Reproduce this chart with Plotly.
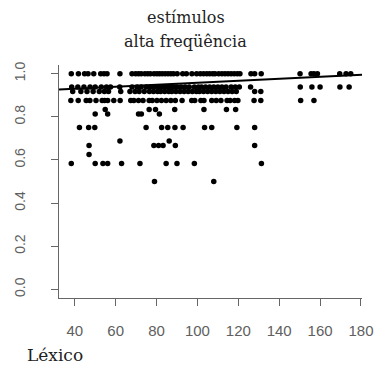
import plotly.graph_objects as go

# --- data ---
x_100 = [38.3, 41.8, 44.8, 46.5, 49.3, 52.7, 54.3, 55.8, 62.1, 68, 69.8, 71.2, 72.5, 74.3, 75.7, 77,
         78.8, 80.2, 81.5, 82.8, 84.2, 85.6, 87, 88.3, 90.1, 92.8, 94.6, 97.3, 99.6, 101.4, 103,
         104.6, 106, 107.5, 108.6, 110.4, 112, 113.5, 115, 116.5, 118, 119.5, 120.8, 126.2, 128,
         131.2, 150.2, 155.6, 157, 158.7, 169.6, 172.7, 175]
x_094 = [38.5, 41.5, 44.5, 47.5, 50, 53, 55.5, 57.5, 62, 68, 70.5, 72.5, 75, 77, 79, 81, 83, 85, 87,
         88.5, 90, 92, 94, 96, 98.5, 100.5, 102, 104, 106, 108, 110, 112, 114, 116.5, 118.5, 120.5,
         126, 150.3, 156, 160, 169.7, 174.2]
x_092 = [39, 43, 46, 49, 52, 54.5, 56.5, 62.5, 67, 69.5, 71.5, 74, 76.5, 78.5, 80.5, 82, 84, 86,
         87.5, 89.5, 91.5, 93.5, 95.5, 97.5, 99.5, 101, 103, 105, 107, 109, 111, 113, 115, 117,
         119, 128, 131]
x_088 = [38.1, 41.7, 45.6, 47.4, 50.4, 53.4, 54.6, 56.1, 59.1, 62.2, 67.4, 68.9, 71.2, 73.4, 76.4,
         77.9, 80.2, 82.4, 84.7, 87, 89.2, 92.5, 97.2, 98.7, 101.7, 103.2, 107, 109.2, 111.5,
         114.5, 116, 118.2, 119.8, 127.7, 131, 150.5, 157]
x_083 = [54.9, 76.4, 79.5, 88.9, 103.2, 114.2, 118.7]
x_081 = [50, 56.1, 71.2, 72.6, 81.4]
x_075 = [42.3, 46.8, 49.8, 74.9, 82.5, 85.5, 89, 93, 103.5, 107, 119.3, 128]
x_069 = [62.1, 86.2]
x_067 = [47, 78.7, 81, 83.2, 89.2, 128]
x_062 = [47]
x_058 = [38.3, 50, 53.8, 56.1, 62.9, 71.9, 84.7, 90, 98.5, 131.3]
x_050 = [79, 108]

rows = [
    (1.0, x_100), (0.9375, x_094), (0.9167, x_092), (0.875, x_088), (0.8333, x_083),
    (0.8125, x_081), (0.75, x_075), (0.6875, x_069), (0.6667, x_067), (0.625, x_062),
    (0.5833, x_058), (0.5, x_050),
]

# regression line coefficients
intercept = 0.911
slope = 0.000466

x_range = [32.3, 180.5]
y_range = [-0.04, 1.04]
x_ticks = [40, 60, 80, 100, 120, 140, 160, 180]
y_ticks = [0.0, 0.2, 0.4, 0.6, 0.8, 1.0]
y_ticklabels = ["0.0", "0.2", "0.4", "0.6", "0.8", "1.0"]

xs, ys = [], []
for yv, xl in rows:
    for xv in xl:
        xs.append(xv)
        ys.append(yv)

fig = go.Figure()
fig.add_trace(go.Scatter(x=xs, y=ys, mode="markers",
                         marker=dict(color="black", size=5.5, line=dict(width=0)),
                         showlegend=False, hoverinfo="skip"))
fig.add_trace(go.Scatter(x=x_range, y=[intercept + slope * v for v in x_range], mode="lines",
                         line=dict(color="black", width=2), showlegend=False, hoverinfo="skip"))

axis_col = "#666666"
lab_col = "#606060"
fig.update_layout(
    width=385, height=371,
    margin=dict(l=44, r=13, t=65, b=73),
    paper_bgcolor="white", plot_bgcolor="white",
    xaxis=dict(range=x_range, tickvals=x_ticks, ticks="outside", ticklen=7, tickcolor=axis_col,
               showline=True, linecolor=axis_col, linewidth=1, showgrid=False, zeroline=False,
               tickfont=dict(family="Liberation Sans", size=15, color=lab_col),
               ticklabelstandoff=12),
    yaxis=dict(range=y_range, tickvals=y_ticks, ticktext=y_ticklabels, ticks="outside", ticklen=7,
               tickcolor=axis_col, showline=True, linecolor=axis_col, linewidth=1, showgrid=False,
               zeroline=False, tickangle=-90,
               tickfont=dict(family="Liberation Sans", size=14, color=lab_col),
               ticklabelstandoff=20),
    annotations=[
        dict(text="estímulos", xref="paper", yref="paper", x=0.418, y=1.206, xanchor="center",
             yanchor="middle", showarrow=False, font=dict(family="DejaVu Serif", size=16, color="#222")),
        dict(text="alta freqüência", xref="paper", yref="paper", x=0.418, y=1.103, xanchor="center",
             yanchor="middle", showarrow=False, font=dict(family="DejaVu Serif", size=16, color="#222")),
        dict(text="Léxico", xref="paper", yref="paper", x=0.085, y=-0.245, xanchor="right",
             yanchor="middle", showarrow=False, font=dict(family="DejaVu Serif", size=17, color="#222")),
    ],
)
fig.write_html("out.html", config={"displayModeBar": False},
               post_script="document.body.style.margin='0';")
